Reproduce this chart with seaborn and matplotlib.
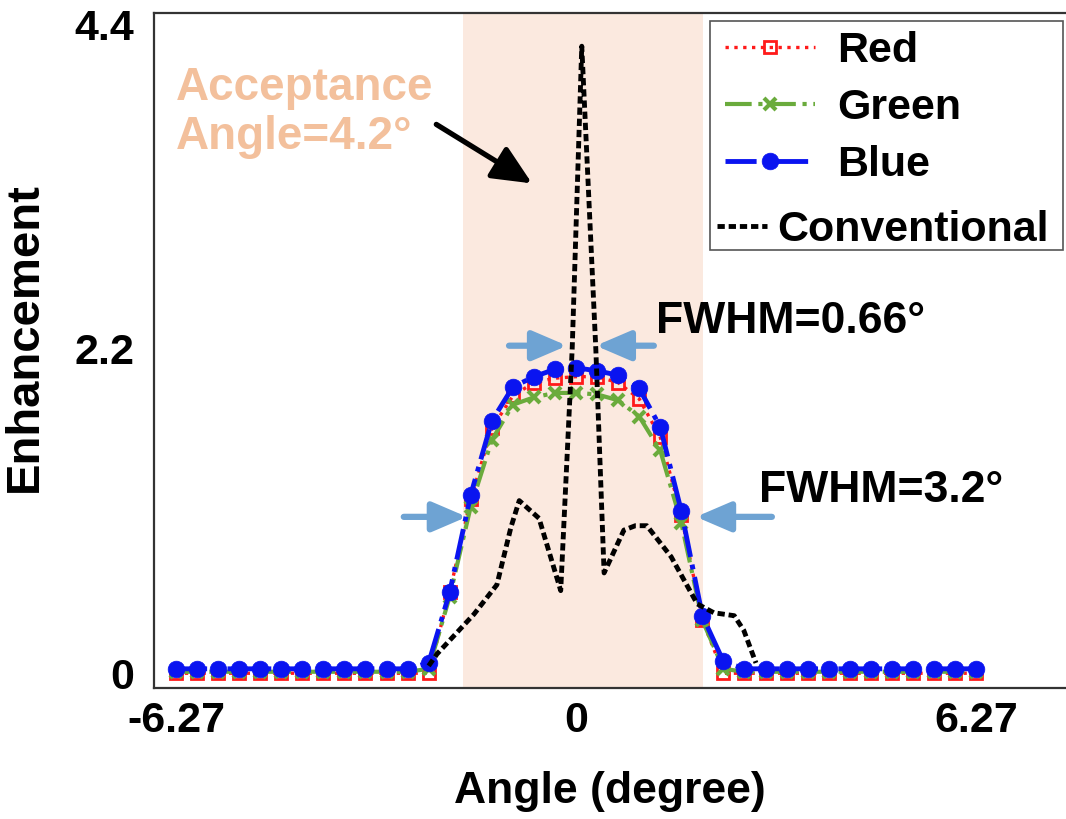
import numpy as np
import matplotlib
matplotlib.use("Agg")
import matplotlib.pyplot as plt
from matplotlib.patches import FancyArrowPatch, Rectangle
import seaborn as sns

# ---- data -------------------------------------------------------------
angle = np.linspace(-6.27, 6.27, 39)

red = [0.00, 0.00, 0.00, 0.00, 0.00, 0.00, 0.00, 0.00, 0.00, 0.00,
       0.00, 0.00, 0.00, 0.55, 1.18, 1.66, 1.88, 1.97, 2.00, 2.01,
       2.01, 1.97, 1.86, 1.60, 1.07, 0.36, 0.00, 0.00, 0.00, 0.00,
       0.00, 0.00, 0.00, 0.00, 0.00, 0.00, 0.00, 0.00, 0.00]

green = [0.01, 0.01, 0.01, 0.01, 0.01, 0.01, 0.01, 0.01, 0.01, 0.01,
         0.01, 0.01, 0.03, 0.52, 1.13, 1.58, 1.82, 1.87, 1.90, 1.90,
         1.89, 1.85, 1.74, 1.51, 1.02, 0.36, 0.03, 0.01, 0.01, 0.01,
         0.01, 0.01, 0.01, 0.01, 0.01, 0.01, 0.01, 0.01, 0.01]

blue = [0.03, 0.03, 0.03, 0.03, 0.03, 0.03, 0.03, 0.03, 0.03, 0.03,
        0.03, 0.03, 0.07, 0.55, 1.21, 1.71, 1.94, 2.01, 2.06, 2.07,
        2.05, 2.02, 1.93, 1.67, 1.10, 0.39, 0.08, 0.03, 0.03, 0.03,
        0.03, 0.03, 0.03, 0.03, 0.03, 0.03, 0.03, 0.03, 0.03]

conv_angle = [-2.31, -2.18, -1.60, -1.24, -1.02, -0.89, -0.58, -0.24,
              -0.06, 0.09, 0.31, 0.44, 0.75, 0.93, 1.11, 1.49, 1.90,
              2.16, 2.48, 2.63, 2.82]
conv = [0.05, 0.13, 0.40, 0.60, 0.99, 1.17, 1.05, 0.56,
        2.20, 4.25, 2.20, 0.68, 0.97, 1.00, 1.00, 0.79, 0.47,
        0.41, 0.39, 0.29, 0.07]

xticks = [-6.27, 0, 6.27]
xticklabels = ["-6.27", "0", "6.27"]
yticks = [0, 2.2, 4.4]
yticklabels = ["0", "2.2", "4.4"]

acceptance = (-1.77, 1.99)          # shaded acceptance band
fwhm_narrow = [(-1.05, -0.14), (1.22, 0.31), 2.22]   # (tail, tip) pairs, level
fwhm_wide = [(-2.70, -1.71), (3.07, 1.88), 1.06]

# ---- style ------------------------------------------------------------
sns.set_theme(style="white")
plt.rcParams["font.family"] = ["Liberation Sans", "DejaVu Sans"]
plt.rcParams["font.weight"] = "bold"
plt.rcParams["axes.labelweight"] = "bold"
for key in ("text.color", "axes.labelcolor", "xtick.color", "ytick.color"):
    plt.rcParams[key] = "black"

W, H = 1066, 819
fig = plt.figure(figsize=(W / 100, H / 100), dpi=100)
ax = fig.add_axes([154 / W, 131 / H, 912 / W, 675 / H])

ax.axvspan(*acceptance, color="#fbe9df", lw=0, zorder=0)

sns.lineplot(x=angle, y=red, ax=ax, estimator=None, color="#ff1a1a",
             linestyle=":", lw=2.4, marker="s", markersize=9,
             markerfacecolor="none", markeredgecolor="#ff1a1a",
             markeredgewidth=2.0, label="Red", zorder=3)
sns.lineplot(x=angle, y=green, ax=ax, estimator=None, color="#6aab3c",
             linestyle="-.", lw=3.0, marker="x", markersize=9,
             markeredgecolor="#6aab3c", markeredgewidth=3.0,
             label="Green", zorder=4)
sns.lineplot(x=angle, y=blue, ax=ax, estimator=None, color="#0a14f0",
             linestyle="-.", lw=3.5, marker="o", markersize=12,
             markerfacecolor="#0a14f0", markeredgecolor="#0a14f0",
             markeredgewidth=0.5, label="Blue", zorder=5)
sns.lineplot(x=conv_angle, y=conv, ax=ax, estimator=None, sort=False,
             color="black", lw=3.5, dashes=False, label="Conventional",
             zorder=6)
conv_line = ax.get_lines()[-1]
conv_line.set_linestyle((0, (1.5, 0.8)))
if ax.get_legend() is not None:
    ax.get_legend().remove()

# ---- axes -------------------------------------------------------------
ax.set_xlim(-6.615, 7.68)
ax.set_ylim(-0.10, 4.475)
ax.set_xticks(xticks)
ax.set_xticklabels(xticklabels)
ax.set_yticks(yticks)
ax.set_yticklabels(yticklabels)
ax.tick_params(axis="both", direction="in", length=7, width=1.4,
               color="#333333", labelsize=31, labelcolor="black")
ax.tick_params(axis="x", pad=9)
ax.tick_params(axis="y", pad=14)
for lab in ax.get_xticklabels() + ax.get_yticklabels():
    lab.set_fontweight("bold")
for side in ("left", "bottom", "top"):
    ax.spines[side].set_color("#333333")
    ax.spines[side].set_linewidth(1.6)
ax.spines["right"].set_visible(False)

ax.set_xlabel("Angle (degree)", fontsize=32, fontweight="bold",
              color="black", labelpad=22)
ax.set_ylabel("Enhancement", fontsize=34, fontweight="bold", color="black")
ax.yaxis.set_label_coords(-0.118, 0.52)

# ---- annotations ------------------------------------------------------
arrow_blue = "#6ea3d3"
for level, pairs in ((fwhm_narrow[2], fwhm_narrow[:2]),
                     (fwhm_wide[2], fwhm_wide[:2])):
    for tail, tip in pairs:
        ax.add_patch(FancyArrowPatch((tail, level), (tip, level),
                                     arrowstyle="-|>,head_length=1.05,head_width=0.45",
                                     mutation_scale=20, lw=4.5, color=arrow_blue,
                                     shrinkA=0, shrinkB=0, zorder=7))

ax.add_patch(FancyArrowPatch((-2.19, 3.72), (-0.69, 3.32),
                             arrowstyle="-|>,head_length=1.2,head_width=0.55",
                             mutation_scale=20, lw=3.8, color="black",
                             shrinkA=0, shrinkB=0, zorder=7))

ax.text(-6.27, 3.55, "Acceptance\nAngle=4.2°", color="#f3c09c",
        fontsize=33, fontweight="bold", ha="left", va="baseline",
        linespacing=1.15, zorder=8)
ax.text(1.25, 2.305, "FWHM=0.66°", fontsize=32, fontweight="bold",
        ha="left", va="baseline", zorder=8)
ax.text(2.87, 1.16, "FWHM=3.2°", fontsize=32, fontweight="bold",
        ha="left", va="baseline", zorder=8)

# ---- legend: shared frame, coloured entries and the conventional row ---
handles, labels = ax.get_legend_handles_labels()
frame = Rectangle((710 / W, 1 - 250 / H), 353 / W, 229 / H,
                  transform=fig.transFigure, facecolor="white",
                  edgecolor="#555555", lw=1.2, zorder=4)
fig.add_artist(frame)

common = dict(prop={"weight": "bold", "size": 31}, borderpad=0,
              borderaxespad=0, numpoints=1, frameon=False,
              labelspacing=0.4, loc="upper left",
              bbox_transform=fig.transFigure)
leg_a = fig.legend(handles[:3], labels[:3],
                   bbox_to_anchor=(725 / W, 1 - 31 / H),
                   handlelength=2.1, handletextpad=0.5, **common)
leg_b = fig.legend(handles[3:], labels[3:],
                   bbox_to_anchor=(717 / W, 1 - 210 / H),
                   handlelength=1.15, handletextpad=0.25, **common)
for leg in (leg_a, leg_b):
    leg.set_zorder(6)
    for txt in leg.get_texts():
        txt.set_color("black")

fig.savefig("out.png", dpi=100)
